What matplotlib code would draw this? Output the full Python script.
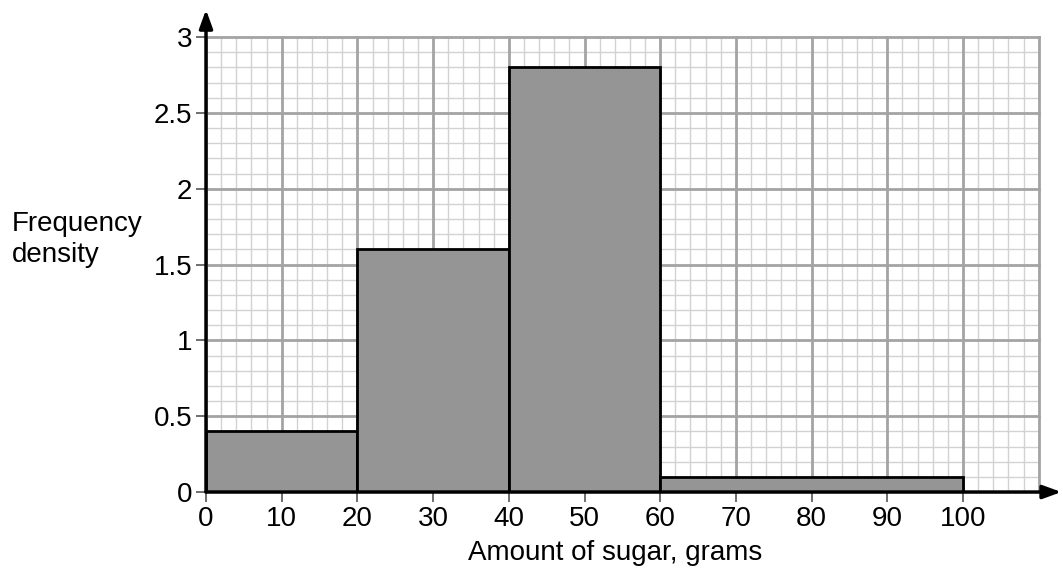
import matplotlib as mpl
import matplotlib.pyplot as plt
import numpy as np

mpl.rcParams.update({'font.family': 'Liberation Sans'})

# Data
class_edges = [0, 20, 40, 60, 100]
freq_density = [0.4, 1.6, 2.8, 0.1]
x_ticks = [0, 10, 20, 30, 40, 50, 60, 70, 80, 90, 100]
y_ticks = [0, 0.5, 1, 1.5, 2, 2.5, 3]
y_labels = ["0", "0.5", "1", "1.5", "2", "2.5", "3"]

fig = plt.figure(figsize=(10.63, 5.75), dpi=100)
ax = fig.add_axes([0.1938, 0.1443, 0.8047, 0.8388])
ax.set_xlim(0, 113)
ax.set_ylim(0, 3.18)

# graph paper grid
grid_x, grid_y = 110, 3
for gx in np.arange(0, grid_x + 0.01, 2):
    major = abs(gx / 10 - round(gx / 10)) < 1e-6
    ax.plot([gx, gx], [0, grid_y], color='#a3a3a3' if major else '#d2d2d2',
            lw=2.0 if major else 1.0, zorder=1 if major else 0.5)
for gy in np.arange(0, grid_y + 0.001, 0.1):
    major = abs(gy / 0.5 - round(gy / 0.5)) < 1e-6
    ax.plot([0, grid_x], [gy, gy], color='#a3a3a3' if major else '#d2d2d2',
            lw=2.0 if major else 1.0, zorder=1 if major else 0.5)

# histogram bars
lefts = np.array(class_edges[:-1])
widths = np.diff(class_edges)
ax.bar(lefts, freq_density, width=widths, align='edge', color='#959595',
       edgecolor='black', linewidth=2, zorder=2)

# axes with arrows
for s in ax.spines.values():
    s.set_visible(False)
arrow = dict(arrowstyle='-|>,head_length=1.1,head_width=0.4',
             color='black', lw=2.5, shrinkA=0, shrinkB=0)
ax.annotate('', xy=(113, 0), xytext=(0, 0), arrowprops=arrow, zorder=3)
ax.annotate('', xy=(0, 3.18), xytext=(0, 0), arrowprops=arrow, zorder=3)

ax.set_xticks(x_ticks)
ax.set_yticks(y_ticks)
ax.set_yticklabels(y_labels)
ax.tick_params(axis='both', direction='out', length=7, width=1.2,
               color='#555555', labelsize=20, pad=3)

fig.text(0.011, 0.583, "Frequency\ndensity", fontsize=20, ha='left', va='center',
         linespacing=1.25)
fig.text(615 / 1063, 1 - 553 / 575, "Amount of sugar, grams", fontsize=20,
         ha='center', va='center')

fig.savefig("out.png", dpi=100)
